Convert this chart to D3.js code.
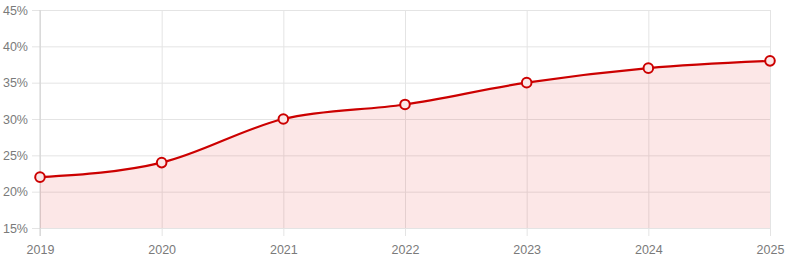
<!DOCTYPE html>
<html>
<head>
<meta charset="utf-8">
<script src="https://cdn.jsdelivr.net/npm/d3@7"></script>
<style>
  body { margin: 0; background: #fff; }
  text { font-family: "Liberation Sans", Arial, sans-serif; }
</style>
</head>
<body>
<div id="chart-area"></div>
<script>
// Data
const years = ["2019", "2020", "2021", "2022", "2023", "2024", "2025"]
const values = [22, 24, 30, 32, 35, 37, 38]
const yTicks = [15, 20, 25, 30, 35, 40, 45]

// Margins
const MARGINS = { TOP: 10, BOTTOM: 30, LEFT: 40, RIGHT: 17 }
const WIDTH = 787 - MARGINS.LEFT - MARGINS.RIGHT
const HEIGHT = 258 - MARGINS.TOP - MARGINS.BOTTOM

const svg = d3.select("#chart-area").append("svg")
	.attr("width", 787)
	.attr("height", 258)

const g = svg.append("g")
	.attr("transform", `translate(${MARGINS.LEFT}, ${MARGINS.TOP})`)

// Scales
const x = d3.scalePoint()
	.domain(years)
	.range([0, WIDTH])

const y = d3.scaleLinear()
	.domain([15, 45])
	.range([HEIGHT, 0])

// Y grid + labels
const yAxisCall = d3.axisLeft(y)
	.tickValues(yTicks)
	.tickSize(-WIDTH - 8)
	.tickPadding(4)
	.tickFormat(d => d + "%")
const yAxis = g.append("g")
	.attr("transform", "translate(-8, 0)")
	.call(yAxisCall)
yAxis.select(".domain").remove()
yAxis.selectAll("line").attr("stroke", "#e4e4e4")
yAxis.selectAll("text").attr("fill", "#7a7a7a").attr("font-size", "12.5px")

// X grid + labels
const xAxisCall = d3.axisBottom(x)
	.tickSize(-HEIGHT - 8)
	.tickPadding(9)
const xAxis = g.append("g")
	.attr("transform", `translate(0, ${HEIGHT + 8})`)
	.call(xAxisCall)
xAxis.select(".domain").remove()
xAxis.selectAll("line").attr("stroke", "#e4e4e4")
xAxis.selectAll("text").attr("fill", "#7a7a7a").attr("font-size", "12.5px")

// left border line
g.append("line")
	.attr("x1", 0).attr("x2", 0)
	.attr("y1", 0).attr("y2", HEIGHT + 8)
	.attr("stroke", "#d0d0d0")

// Area fill
const area = d3.area()
	.x((d, i) => x(years[i]))
	.y0(HEIGHT)
	.y1(d => y(d))
	.curve(d3.curveMonotoneX)

g.append("path")
	.datum(values)
	.attr("d", area)
	.attr("fill", "rgba(230, 60, 60, 0.12)")

// Line
const line = d3.line()
	.x((d, i) => x(years[i]))
	.y(d => y(d))
	.curve(d3.curveMonotoneX)

g.append("path")
	.datum(values)
	.attr("d", line)
	.attr("fill", "none")
	.attr("stroke", "#cc0000")
	.attr("stroke-width", 2.2)

// Points
g.selectAll("circle")
	.data(values)
	.enter().append("circle")
	.attr("cx", (d, i) => x(years[i]))
	.attr("cy", d => y(d))
	.attr("r", 4.8)
	.attr("fill", "#fbe6e6")
	.attr("stroke", "#cc0000")
	.attr("stroke-width", 2)
</script>
</body>
</html>
